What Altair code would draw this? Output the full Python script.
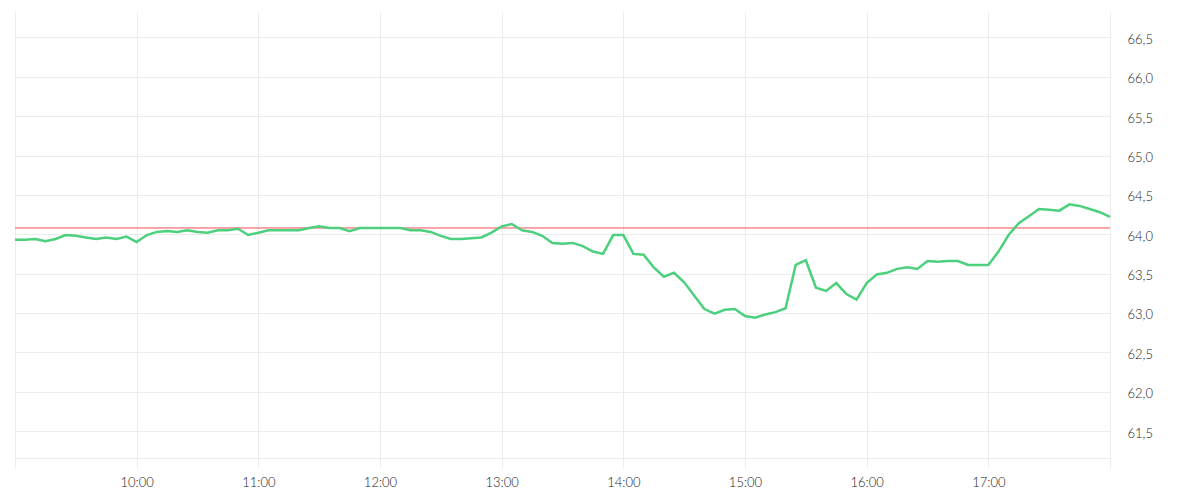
import altair as alt
import pandas as pd

# Time of each sample (5-minute steps from 09:00 to 18:00)
times = [f"{9 + (m // 60):02d}:{m % 60:02d}" for m in range(0, 9 * 60 + 1, 5)]

prices = [
    63.93, 63.93, 63.94, 63.91, 63.94, 63.99, 63.98, 63.96, 63.94, 63.96,
    63.94, 63.97, 63.90, 63.99, 64.03, 64.04, 64.03, 64.05, 64.03, 64.02,
    64.05, 64.05, 64.07, 63.99, 64.02, 64.05, 64.05, 64.05, 64.05, 64.08,
    64.10, 64.08, 64.08, 64.04, 64.08, 64.08, 64.08, 64.08, 64.08, 64.05,
    64.05, 64.03, 63.98, 63.94, 63.94, 63.95, 63.96, 64.02, 64.10, 64.13,
    64.05, 64.03, 63.98, 63.89, 63.88, 63.89, 63.85, 63.78, 63.75, 63.99,
    63.99, 63.75, 63.74, 63.58, 63.46, 63.51, 63.39, 63.22, 63.05, 62.99,
    63.04, 63.05, 62.96, 62.94, 62.98, 63.01, 63.06, 63.61, 63.67, 63.32,
    63.28, 63.38, 63.24, 63.17, 63.38, 63.49, 63.51, 63.56, 63.58, 63.56,
    63.66, 63.65, 63.66, 63.66, 63.61, 63.61, 63.61, 63.78, 63.99, 64.14,
    64.23, 64.32, 64.31, 64.30, 64.38, 64.36, 64.32, 64.28, 64.22,
]

previous_close = [64.08]

hour_ticks = [9, 10, 11, 12, 13, 14, 15, 16, 17, 18]
price_ticks = [61.5, 62.0, 62.5, 63.0, 63.5, 64.0, 64.5, 65.0, 65.5, 66.0, 66.5]
y_domain = [61.157, 66.824]
x_domain = [9, 18]

df = pd.DataFrame({"time": times, "price": prices})
df["hour"] = df["time"].apply(lambda t: int(t[:2]) + int(t[3:]) / 60.0)
ref = pd.DataFrame({"price": previous_close})

GRID = "#ececec"
FONT = "Lato"
TXT = "#1a1a1a"

x_enc = alt.X(
    "hour:Q",
    scale=alt.Scale(domain=x_domain, nice=False, zero=False),
    axis=alt.Axis(
        values=hour_ticks,
        labelExpr="datum.value == 9 || datum.value == 18 ? '' : datum.value + ':00'",
        title=None,
        grid=True,
        gridColor=GRID,
        domain=True,
        domainColor=GRID,
        ticks=True,
        tickColor=GRID,
        tickSize=10,
        labelPadding=8,
        labelFont=FONT,
        labelFontSize=13,
        labelFontWeight=300,
        labelColor=TXT,
    ),
)

y_scale = alt.Scale(domain=y_domain, nice=False, zero=False)

line = alt.Chart(df).mark_line(color="#4cd07d", strokeWidth=2.5).encode(
    x=x_enc,
    y=alt.Y(
        "price:Q",
        scale=y_scale,
        axis=alt.Axis(
            orient="right",
            values=price_ticks,
            labelExpr="replace(format(datum.value, '.1f'), '.', ',')",
            title=None,
            grid=True,
            gridColor=GRID,
            domain=False,
            ticks=False,
            labelPadding=17,
            labelOffset=2,
            labelFont=FONT,
            labelFontSize=13,
            labelFontWeight=300,
            labelColor=TXT,
        ),
    ),
)

rule = alt.Chart(ref).mark_rule(color="#f24b55", strokeWidth=1).encode(
    y=alt.Y("price:Q", scale=y_scale)
)

chart = (
    alt.layer(rule, line)
    .properties(
        width=1095,
        height=446,
        padding={"left": 2, "top": 4, "right": 5, "bottom": 5},
    )
    .configure_view(stroke=None)
)

chart.save("out.html", embed_options={"renderer": "svg", "actions": False})
